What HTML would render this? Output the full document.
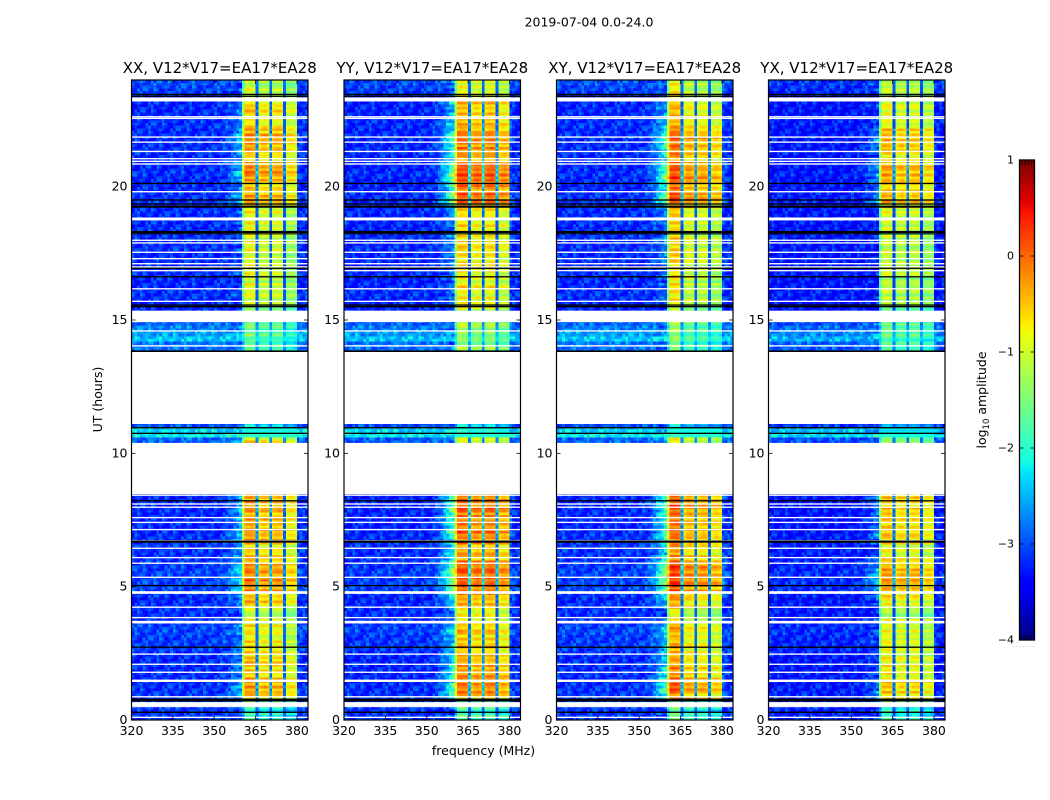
<!DOCTYPE html>
<html lang="en">
<head>
<meta charset="utf-8">
<title>2019-07-04 0.0-24.0</title>
<style>
html,body{margin:0;padding:0;background:#fff;width:1050px;height:800px;overflow:hidden}
svg{display:block}
text{font-family:"DejaVu Sans","Liberation Sans",sans-serif;fill:#000}
</style>
</head>
<body>
<svg id="chart" xmlns="http://www.w3.org/2000/svg" width="1050" height="800" viewBox="0 0 1050 800">
<text x="589" y="26.5" font-size="12.5" text-anchor="middle">2019-07-04 0.0-24.0</text>
<text x="483.5" y="755" font-size="12.5" text-anchor="middle">frequency (MHz)</text>
<text transform="translate(102,399.5) rotate(-90)" font-size="12.5" text-anchor="middle">UT (hours)</text>
<text transform="translate(986,400) rotate(-90)" font-size="12.5" text-anchor="middle">log<tspan font-size="8.5" dy="3">10</tspan><tspan dy="-3"> amplitude</tspan></text>
</svg>
<script>
// ---- chart data ----
const panelTitles = ["XX, V12*V17=EA17*EA28","YY, V12*V17=EA17*EA28","XY, V12*V17=EA17*EA28","YX, V12*V17=EA17*EA28"];
const xTickValues = [320,335,350,365,380];
const yTickValues = [0,5,10,15,20];
const colorbarTickValues = [-4,-3,-2,-1,0,1];
const colorbarTickLabels = ["\u22124","\u22123","\u22122","\u22121","0","1"];

// peak in-band log10 amplitude per 0.2 h row, UT 0 upward; null = no data
const bandXX = [-1.9,-1.9,-1.8,-1.9,-0.4, -0.25,-0.2,-0.3,-0.5,-0.5, -0.45,-0.5,-0.6,-0.55,-0.7, -0.7,-0.65,-0.6,-0.75,-1.0,
 -1.0,-0.55,-0.45,-0.5,-0.15, -0.1,-0.1,-0.05,-0.1,-0.2, -0.45,-0.5,-0.6,-0.3,-0.35, -0.2,-0.3,-0.35,-0.3,-0.2,
 -0.25,-0.3,-0.4,null,null, null,null,null,null,null, null,null,-0.55,-2.1,-2.2, -2.2,null,null,null,null,
 null,null,null,null,null, null,null,null,null,-1.6, -1.6,-1.7,-1.6,-1.5,-1.5, null,-1.5,-1.2,-0.95,-0.95,
 -0.9,-0.85,-0.95,-0.9,-0.85, -0.8,-0.9,-0.8,-0.85,-0.75, -0.85,-0.9,-0.85,-0.8,-0.85, -0.8,-0.55,-0.25,-0.2,-0.55,
 -0.5,-0.2,-0.15,-0.2,-0.3, -0.55,-0.45,-0.2,-0.2,-0.15, -0.3,-0.6,-0.7,-0.65,-0.55, -0.6,-0.7,-0.95,-1.0,-1.0];
const bandYY = [-1.7,-1.75,-1.6,-1.7,-0.3, -0.15,-0.1,-0.2,-0.3,-0.35, -0.3,-0.35,-0.5,-0.4,-0.5, -0.5,-0.45,-0.5,-0.6,-0.85,
 -0.85,-0.45,-0.35,-0.3,0.05, 0.1,0.1,0.15,0.05,0.0, -0.3,-0.4,-0.45,-0.15,-0.1, 0.0,-0.05,-0.1,-0.05,0.05,
 0.0,0.0,-0.15,null,null, null,null,null,null,null, null,null,-0.9,-2.1,-2.2, -2.2,null,null,null,null,
 null,null,null,null,null, null,null,null,null,-1.3, -1.3,-1.4,-1.3,-1.2,-1.2, null,-1.4,-1.0,-0.8,-0.8,
 -0.75,-0.7,-0.8,-0.75,-0.7, -0.65,-0.75,-0.65,-0.7,-0.6, -0.7,-0.75,-0.7,-0.65,-0.7, -0.6,-0.3,0.0,0.1,-0.2,
 -0.05,0.1,0.15,0.1,-0.05, -0.3,-0.2,-0.1,-0.15,-0.05, -0.25,-0.45,-0.5,-0.5,-0.45, -0.5,-0.6,-0.85,-0.85,-0.8];
const bandXY = [-1.6,-1.7,-1.6,-1.6,-0.3, -0.15,-0.1,-0.2,-0.35,-0.4, -0.4,-0.45,-0.55,-0.5,-0.6, -0.6,-0.55,-0.55,-0.7,-0.9,
 -0.9,-0.5,-0.4,-0.35,0.0, 0.05,0.05,0.05,0.0,-0.1, -0.35,-0.45,-0.5,-0.2,-0.2, -0.1,-0.15,-0.2,-0.15,-0.05,
 -0.1,-0.1,-0.25,null,null, null,null,null,null,null, null,null,-0.85,-2.1,-2.2, -2.2,null,null,null,null,
 null,null,null,null,null, null,null,null,null,-1.5, -1.5,-1.6,-1.5,-1.4,-1.4, null,-1.45,-1.05,-0.8,-0.8,
 -0.8,-0.75,-0.85,-0.8,-0.75, -0.7,-0.8,-0.7,-0.75,-0.65, -0.75,-0.8,-0.75,-0.7,-0.75, -0.65,-0.4,-0.1,-0.05,-0.3,
 -0.15,0.0,0.0,-0.05,-0.15, -0.4,-0.3,-0.15,-0.2,-0.1, -0.3,-0.5,-0.55,-0.55,-0.5, -0.55,-0.65,-0.9,-0.9,-0.85];
const bandYX = [-1.9,-1.95,-1.85,-1.9,-0.65, -0.5,-0.45,-0.55,-0.7,-0.7, -0.7,-0.75,-0.85,-0.8,-0.9, -0.9,-0.85,-0.85,-0.95,-1.15,
 -1.15,-0.8,-0.7,-0.65,-0.4, -0.35,-0.35,-0.3,-0.35,-0.45, -0.7,-0.75,-0.85,-0.55,-0.55, -0.5,-0.55,-0.6,-0.55,-0.5,
 -0.5,-0.55,-0.65,null,null, null,null,null,null,null, null,null,-1.3,-2.3,-2.4, -2.4,null,null,null,null,
 null,null,null,null,null, null,null,null,null,-1.7, -1.7,-1.75,-1.7,-1.6,-1.6, null,-1.6,-1.3,-1.05,-1.05,
 -1.05,-1.0,-1.1,-1.05,-1.0, -0.95,-1.05,-0.95,-1.0,-0.95, -1.0,-1.05,-1.0,-0.95,-1.0, -0.95,-0.7,-0.4,-0.35,-0.6,
 -0.4,-0.35,-0.3,-0.35,-0.45, -0.7,-0.6,-0.45,-0.45,-0.4, -0.55,-0.75,-0.85,-0.85,-0.8, -0.85,-0.9,-1.05,-1.1,-1.1];

// background level outside the band per 0.2 h row
const floorLevels = [-3.1,-3.15,-3.1,-3.1,-3.1, -3.15,-3.15,-3.2,-3.15,-3.2, -3.15,-3.2,-3.15,-3.1,-3.1, -3.1,-3.05,-3.05,-3.15,-3.15,
 -3.15,-3.15,-3.2,-3.15,-3.05, -3.05,-3.05,-3.05,-3.1,-3.1, -3.15,-3.15,-3.1,-3.15,-3.15, -3.2,-3.2,-3.2,-3.2,-3.2,
 -3.2,-3.2,-3.2,null,null, null,null,null,null,null, null,null,-2.9,-2.2,-2.35, -3.0,null,null,null,null,
 null,null,null,null,null, null,null,null,null,-2.85, -2.8,-2.4,-2.6,-2.75,-2.9, null,-3.2,-3.2,-3.2,-3.15,
 -3.15,-3.2,-3.2,-3.15,-3.2, -3.2,-3.15,-3.2,-3.15,-3.2, -3.15,-3.15,-3.2,-3.15,-3.2, -3.15,-3.15,-3.15,-3.15,-3.2,
 -3.2,-3.2,-3.15,-3.2,-3.15, -3.2,-3.15,-3.15,-3.2,-3.15, -3.2,-3.15,-3.15,-3.2,-3.2, -3.2,-3.15,-3.1,-3.05,-3.0];

// relative level per 1 MHz channel inside the band; null = outside the band
const bandShape = [null,null,null,null,null,null,null,null,null,null,null,null,null,null,null,null,null,null,null,null,
 null,null,null,null,null,null,null,null,null,null,null,null,null,null,null,null,null,null,null,null,
 -0.8,0,0.02,0,-0.05,-2.2,-0.2,-0.05,0,-0.1,-2.2,-0.1,0,0,-0.05,-2.2,-0.1,0,0,-0.1,null,null,null,null];
const shoulderRamp = [0,0,0,0,0,0,0,0,0,0,0,0,0,0,0,0,0,0,0,0,0,0,0,0,0,0,0,0,0,0,0,0,
 0.05,0.1,0.2,0.3,0.45,0.6,0.8,0.95,0,0,0,0,0,0,0,0,0,0,0,0,0,0,0,0,0,0,0,0,0.15,0.05,0,0];
const subbandGainXX = [0,-0.15,-0.15,-0.45];
const subbandGainYY = [0.02,-0.1,-0.05,-0.3];
const subbandGainXY = [0.15,-0.2,-0.3,-0.45];
const subbandGainYX = [0,-0.1,-0.1,-0.3];
const shoulderGain = [0.9,1.5,1.5,1.0];
const panelFloorOffset = [0,-0.03,0,-0.12];

// typed texture tables: fine horizontal striping and channel speckle
const fineRipple = [0.16,-0.13,0.26,-0.21,0.05,-0.1,0.31,-0.07,-0.26,0.13,0.03,-0.18,0.21,-0.29,0.1,0.23,-0.16,-0.03,0.18,-0.23,0.08,0.29,-0.08];
const speckle = [-0.22,0.31,-0.08,0.12,-0.3,0.42,-0.15,0.03,0.22,-0.26,-0.05,0.36,-0.18,0.09,-0.33,0.16,0.5,-0.12,-0.24,0.06,0.28,-0.2,-0.02,0.19,-0.28,0.38,-0.1,0.11,-0.16,0.25,-0.34,0.02,0.45,-0.07,-0.21,0.14,-0.11];

// flagged (white) and masked (black) spans in UT hours: [centre, thickness]
const flaggedSpans = [[23.27,0.15],[22.62,0.05],[22.56,0.05],[21.86,0.05],[21.67,0.05],[21.32,0.05],[21.05,0.05],[20.95,0.05],[20.85,0.05],[19.81,0.05],[18.79,0.11],[17.99,0.05],[17.89,0.05],[17.54,0.05],[17.30,0.05],[17.11,0.05],[16.99,0.05],[16.85,0.05],[16.17,0.05],[15.70,0.05],[15.135,0.43],[14.59,0.05],[14.03,0.05],[12.455,2.71],[9.43,1.92],[8.43,0.05],[8.10,0.05],[7.98,0.05],[7.59,0.05],[7.41,0.05],[7.14,0.05],[6.72,0.05],[6.44,0.05],[6.09,0.05],[5.88,0.05],[5.35,0.05],[4.78,0.1],[4.23,0.05],[3.84,0.05],[3.67,0.1],[2.47,0.05],[2.09,0.05],[1.79,0.05],[1.47,0.09],[0.87,0.05],[0.595,0.15],[0.5,0.04],[0.10,0.05]];
const maskedSpans = [[23.46,0.05],[23.39,0.05],[20.12,0.05],[19.50,0.05],[19.35,0.05],[19.25,0.08],[18.30,0.08],[18.23,0.04],[16.94,0.05],[16.62,0.05],[15.56,0.05],[15.50,0.05],[13.83,0.06],[10.96,0.05],[10.75,0.05],[8.22,0.05],[6.69,0.08],[5.04,0.05],[2.73,0.05],[0.75,0.11],[0.29,0.05]];

// ---- layout ----
const svgNS = "http://www.w3.org/2000/svg";
const chart = document.getElementById("chart");
const panelLefts = [131.5,344,556.5,768.5];
const panelWidth = 176.5, plotTop = 80, plotBottom = 720;
const bands = [bandXX,bandYY,bandXY,bandYX];
const gains = [subbandGainXX,subbandGainYY,subbandGainXY,subbandGainYX];
const panelKeys = ["xx","yy","xy","yx"];
const rowHours = 0.2, freqMin = 320, freqMax = 384, hourMax = 24;

function yScale(h){ return plotBottom - h/hourMax*(plotBottom-plotTop); }
function xScale(p,f){ return panelLefts[p] + (f-freqMin)/(freqMax-freqMin)*panelWidth; }
function seg(t,pts){
  for(let i=1;i<pts.length;i++){
    if(t<=pts[i][0]){
      const a=pts[i-1], b=pts[i];
      return a[1]+(b[1]-a[1])*(t-a[0])/(b[0]-a[0]);
    }
  }
  return pts[pts.length-1][1];
}
function jet(v){
  const t=Math.max(0,Math.min(1,(v+4)/5));
  const r=seg(t,[[0,0],[.35,0],[.66,1],[.89,1],[1,.5]]);
  const g=seg(t,[[0,0],[.125,0],[.375,1],[.64,1],[.91,0],[1,0]]);
  const b=seg(t,[[0,.5],[.11,1],[.34,1],[.65,0],[1,0]]);
  return "rgb("+Math.round(r*255)+","+Math.round(g*255)+","+Math.round(b*255)+")";
}
function mk(tag,attrs,parent){
  const e=document.createElementNS(svgNS,tag);
  for(const k in attrs) e.setAttribute(k,attrs[k]);
  parent.appendChild(e);
  return e;
}
function cellValue(p,r,sub,ch){
  const band=bands[p][r], floor=floorLevels[r];
  if(band===null||floor===null) return null;
  const grain=speckle[((r*2+sub)*13+ch*7+p*3)%37];
  const ripple=fineRipple[(r*2+sub+p*5)%fineRipple.length];
  const base=floor+panelFloorOffset[p];
  const shape=bandShape[ch];
  if(shape===null){
    return base+grain*0.8+shoulderRamp[ch]*shoulderGain[p]*Math.max(0,band+0.95)*1.1+ripple*shoulderRamp[ch];
  }
  const sb=ch<45?0:ch<50?1:ch<55?2:3;
  return Math.max(base+0.2,band+gains[p][sb]+shape+ripple+grain*0.18);
}

// ---- panels ----
panelTitles.forEach(function(title,p){
  const g=mk("g",{},chart);
  
  
  const cells=mk("g",{"shape-rendering":"crispEdges"},g);
  
  
  const frag=document.createDocumentFragment();
  const cw=panelWidth/(freqMax-freqMin);
  for(let r=0;r<bands[p].length;r++){
    for(let sub=0;sub<2;sub++){
      const y1=yScale(r*rowHours+(sub+1)*rowHours/2), y0=yScale(r*rowHours+sub*rowHours/2);
      for(let ch=0;ch<freqMax-freqMin;ch++){
        const v=cellValue(p,r,sub,ch);
        if(v===null) continue;
        const cell=document.createElementNS(svgNS,"rect");
        
        
        cell.setAttribute("x",(xScale(p,freqMin+ch)).toFixed(2));
        cell.setAttribute("y",y1.toFixed(2));
        cell.setAttribute("width",(cw+0.3).toFixed(2));
        cell.setAttribute("height",(y0-y1+0.3).toFixed(2));
        cell.setAttribute("fill",jet(v));
        frag.appendChild(cell);
      }
    }
  }
  cells.appendChild(frag);

  flaggedSpans.forEach(function(s){
    const line=mk("rect",{x:panelLefts[p],y:yScale(s[0]+s[1]/2),width:panelWidth,height:s[1]/hourMax*(plotBottom-plotTop),fill:"#fff"},g);
    
    
  });
  maskedSpans.forEach(function(s){
    const line=mk("rect",{x:panelLefts[p],y:yScale(s[0]+s[1]/2),width:panelWidth,height:s[1]/hourMax*(plotBottom-plotTop),fill:"#000"},g);
    
    
  });

  const frame=mk("rect",{x:panelLefts[p],y:plotTop,width:panelWidth,height:plotBottom-plotTop,fill:"none",stroke:"#000","stroke-width":1.2},g);
  
  

  xTickValues.forEach(function(f){
    const x=xScale(p,f);
    const t1=mk("line",{x1:x,x2:x,y1:plotBottom,y2:plotBottom-4,stroke:"#000","stroke-width":0.8},g);
    
    
    const t2=mk("line",{x1:x,x2:x,y1:plotTop,y2:plotTop+4,stroke:"#000","stroke-width":0.8},g);
    
    
    const lab=mk("text",{x:x,y:735,"font-size":12.5,"text-anchor":"middle"},g);
    
    
    lab.textContent=f;
  });
  yTickValues.forEach(function(h){
    const y=yScale(h), xl=panelLefts[p], xr=xl+panelWidth;
    const t1=mk("line",{x1:xl,x2:xl+4,y1:y,y2:y,stroke:"#000","stroke-width":0.8},g);
    
    
    const t2=mk("line",{x1:xr,x2:xr-4,y1:y,y2:y,stroke:"#000","stroke-width":0.8},g);
    
    
    const lab=mk("text",{x:xl-4,y:y+4,"font-size":12.5,"text-anchor":"end"},g);
    
    
    lab.textContent=h;
  });
  const ttl=mk("text",{x:panelLefts[p]+panelWidth/2,y:73,"font-size":15,"text-anchor":"middle"},g);
  
  
  ttl.textContent=title;
});

// ---- colorbar ----
const cbLeft=1019.5, cbRight=1034.5, cbTop=160, cbBottom=640, cbMin=-4, cbMax=1;
function cbY(v){ return cbBottom-(v-cbMin)/(cbMax-cbMin)*(cbBottom-cbTop); }
const cb=mk("g",{},chart);


const cbFill=mk("g",{"shape-rendering":"crispEdges"},cb);


for(let i=0;i<240;i++){
  const v=cbMin+(i+0.5)/240*(cbMax-cbMin);
  const s=mk("rect",{x:cbLeft,y:cbBottom-(i+1)*2,width:cbRight-cbLeft,height:2.3,fill:jet(v)},cbFill);
  
  
}
const cbFrame=mk("rect",{x:cbLeft,y:cbTop,width:cbRight-cbLeft,height:cbBottom-cbTop,fill:"none",stroke:"#000","stroke-width":1.3},cb);


colorbarTickValues.forEach(function(v,i){
  const y=cbY(v);
  const a=mk("line",{x1:cbLeft,x2:cbLeft+4,y1:y,y2:y,stroke:"#000","stroke-width":0.8},cb);
  
  
  const b=mk("line",{x1:cbRight,x2:cbRight-4,y1:y,y2:y,stroke:"#000","stroke-width":0.8},cb);
  
  
  const lab=mk("text",{x:1014,y:y+3.5,"font-size":11,"text-anchor":"end"},cb);
  
  
  lab.textContent=colorbarTickLabels[i];
});
[0,1,2,3,4].forEach(function(i){
  const x=1022+i*3.1;
  const a=mk("line",{x1:x,x2:x,y1:cbTop,y2:cbTop+5,stroke:"#000","stroke-width":0.8},cb);
  
  
  const b=mk("line",{x1:x,x2:x,y1:cbBottom,y2:cbBottom-5,stroke:"#000","stroke-width":0.8},cb);
  
  
});
const dots=mk("text",{x:1026,y:647,"font-size":5,"text-anchor":"middle","letter-spacing":"1.7",style:"fill:#777"},cb);


dots.textContent="......";
</script>
</body>
</html>
